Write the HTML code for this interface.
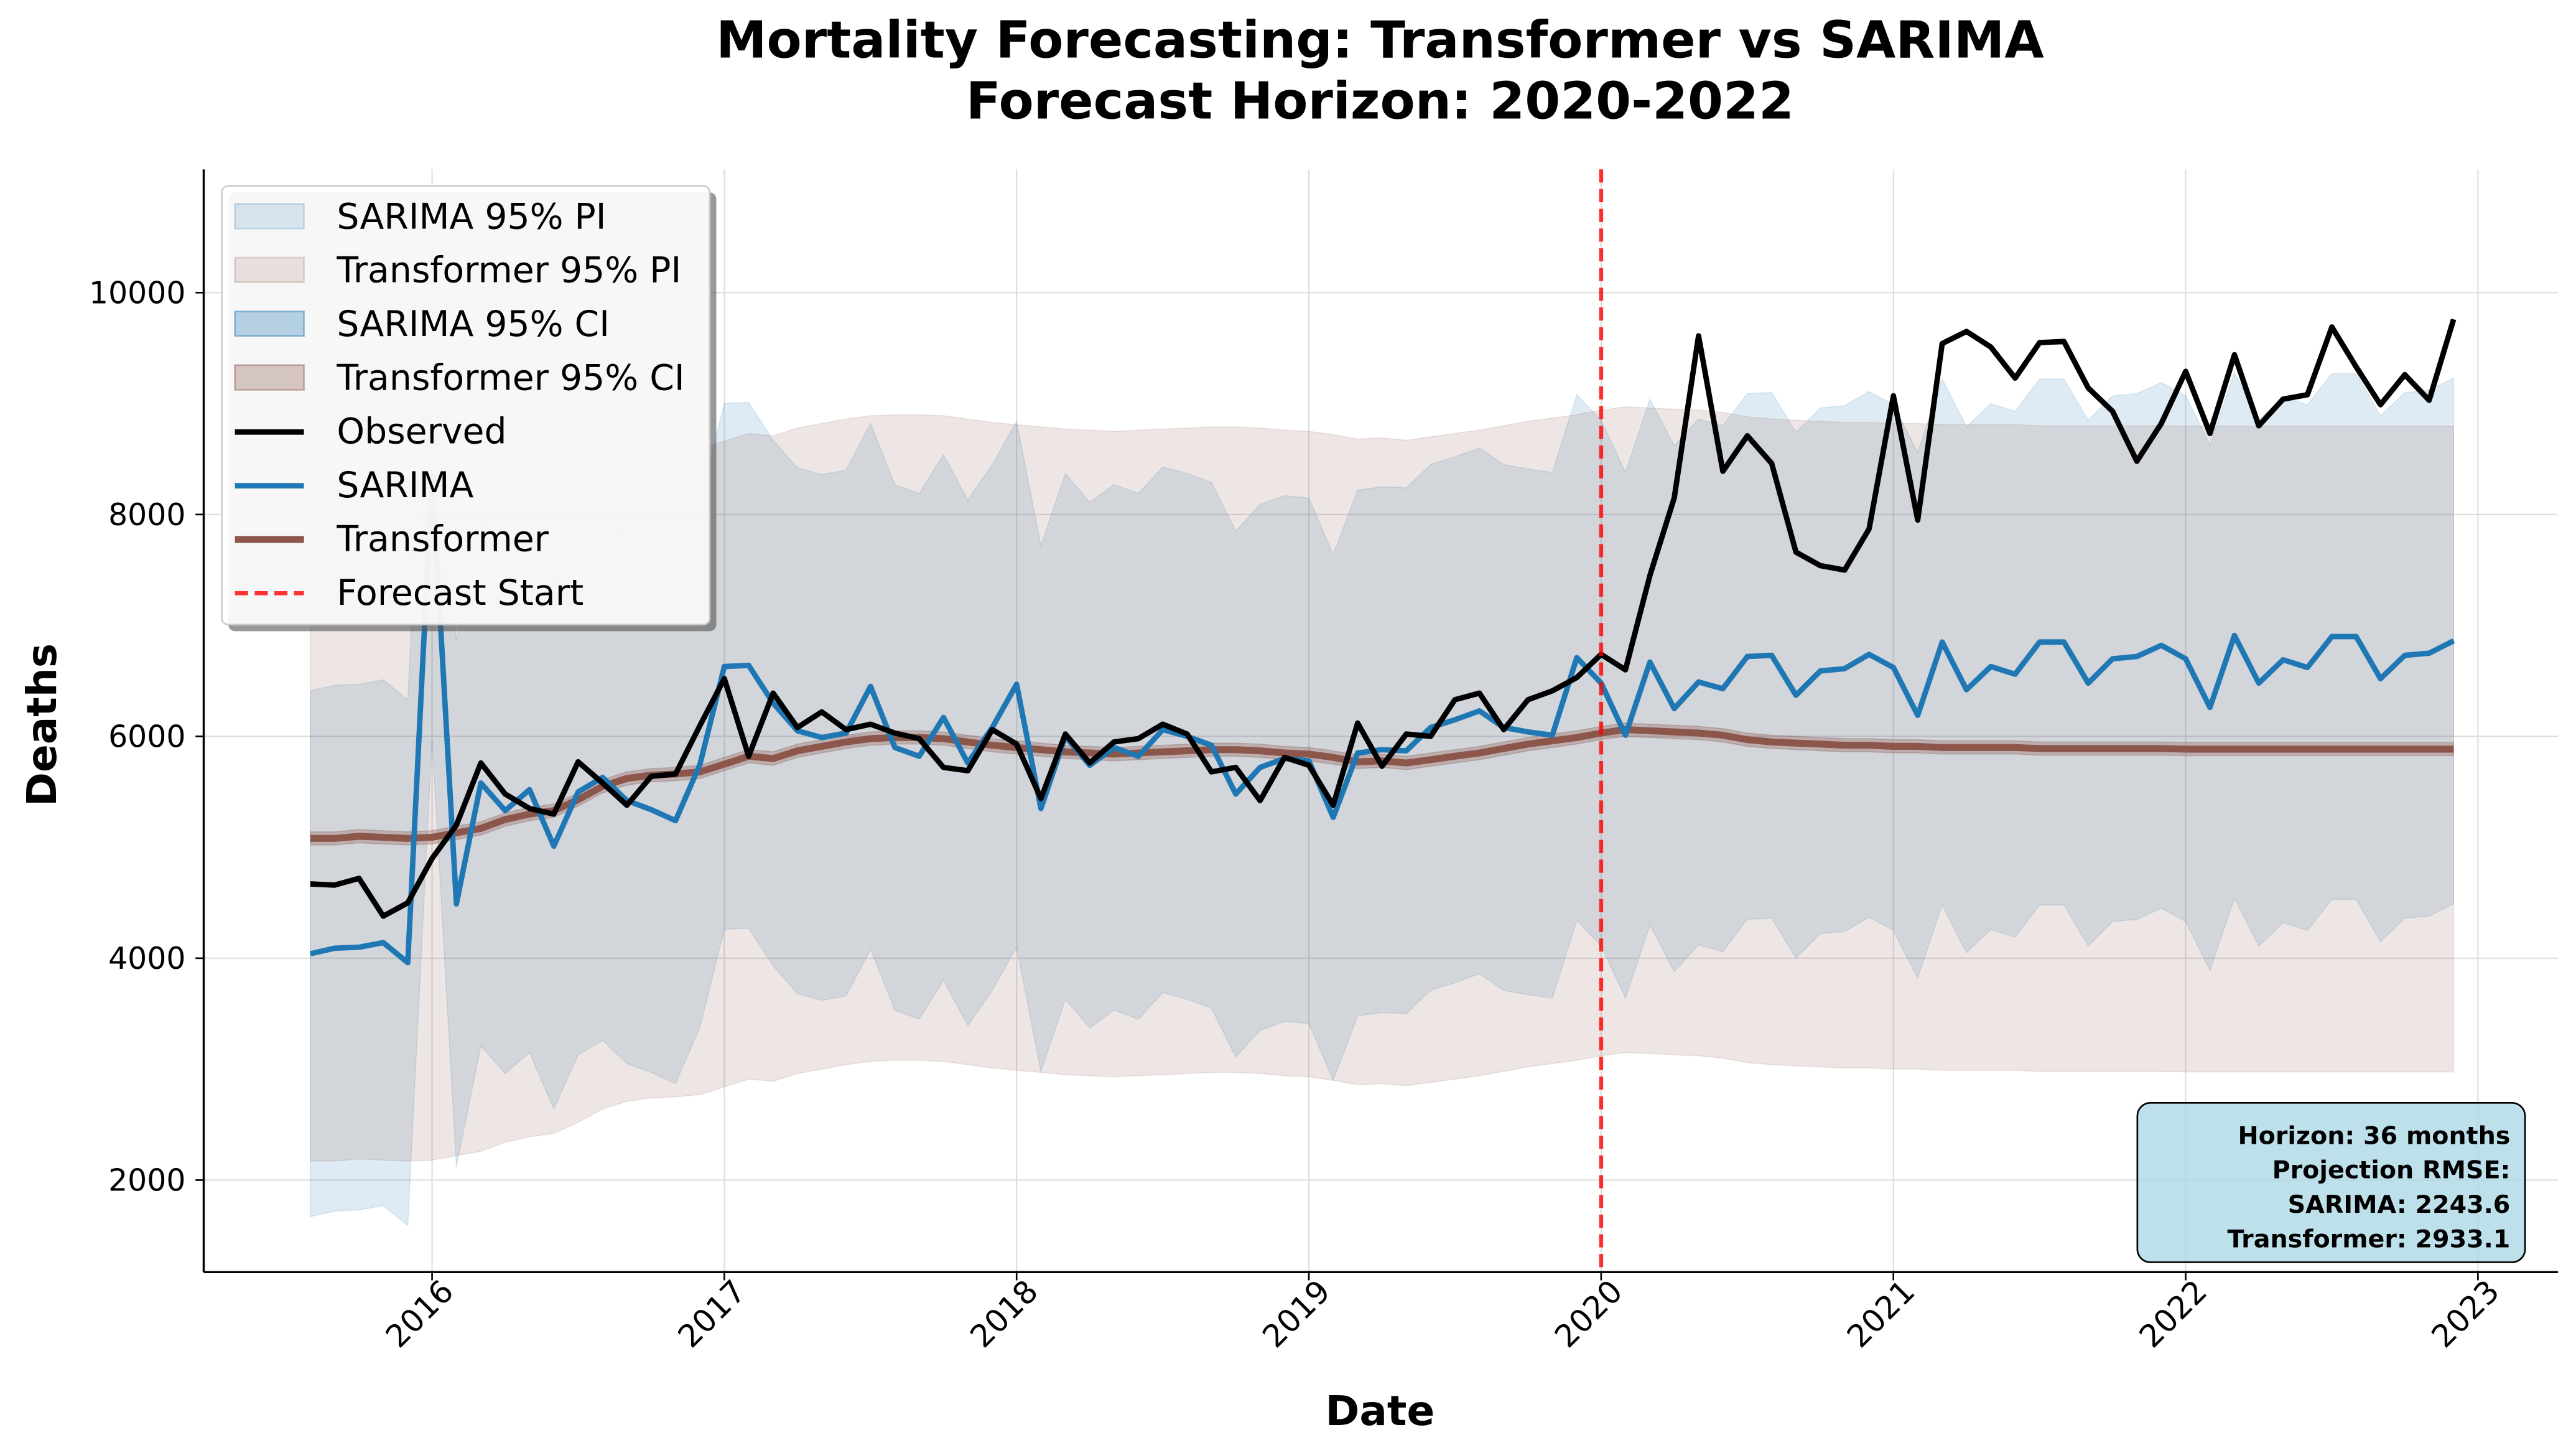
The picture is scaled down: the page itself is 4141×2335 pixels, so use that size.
<!DOCTYPE html>
<html><head><meta charset="utf-8"><style>
html,body{margin:0;padding:0;background:#fff}
svg{display:block;font-family:"DejaVu Sans","Liberation Sans",sans-serif}
</style></head><body>
<svg id="chart" width="4141" height="2335" viewBox="0 0 1568 884" xmlns="http://www.w3.org/2000/svg">
<rect width="1568" height="884" fill="#fff"/>
<text x="840" y="35" text-anchor="middle" font-size="31" font-weight="bold">Mortality Forecasting: Transformer vs SARIMA</text>
<text x="840" y="72" text-anchor="middle" font-size="31" font-weight="bold">Forecast Horizon: 2020-2022</text>
<g id="grid"></g>
<g id="bands"></g>
<g id="lines"></g>
<g id="axes"></g>
<g id="legend"></g>
<g>
<rect x="1301" y="671" width="236" height="97" rx="8" fill="#add8e6" fill-opacity="0.8" stroke="#000" stroke-width="1"/>
<text x="1528" y="696" text-anchor="end" font-size="15" font-weight="bold">Horizon: 36 months</text>
<text x="1528" y="717" text-anchor="end" font-size="15" font-weight="bold">Projection RMSE:</text>
<text x="1528" y="738" text-anchor="end" font-size="15" font-weight="bold">SARIMA: 2243.6</text>
<text x="1528" y="759" text-anchor="end" font-size="15" font-weight="bold">Transformer: 2933.1</text>
</g>
<text x="840" y="867" text-anchor="middle" font-size="25" font-weight="bold">Date</text>
<text transform="translate(34,441) rotate(-90)" text-anchor="middle" font-size="25" font-weight="bold">Deaths</text>
</svg>
<script>
const startYear = 2015, startMonth = 8;
const observed = [4670,4660,4720,4380,4500,
4900,5200,5760,5480,5350,5300,5770,5580,5380,5640,5660,6100,
6520,5820,6390,6080,6220,6060,6110,6030,5980,5720,5690,6060,
5930,5440,6020,5760,5950,5980,6110,6020,5680,5720,5420,5810,
5740,5380,6120,5730,6020,6000,6330,6390,6060,6330,6410,6530,
6740,6600,7450,8150,9610,8390,8710,8460,7660,7540,7500,7870,
9070,7950,9540,9650,9510,9230,9550,9560,9140,8930,8480,8820,
9290,8730,9440,8800,9040,9080,9690,9330,8990,9260,9030,9760];
const sarima = [4040,4090,4100,4140,3960,
8350,4490,5580,5330,5520,5010,5500,5630,5420,5340,5240,5750,
6630,6640,6300,6050,5990,6030,6450,5900,5820,6170,5760,6080,
6470,5350,6000,5740,5900,5820,6060,6000,5920,5480,5720,5800,
5780,5270,5850,5880,5870,6080,6150,6230,6080,6040,6010,6710,
6480,6010,6670,6250,6490,6430,6720,6730,6370,6590,6610,6740,
6620,6190,6850,6420,6630,6560,6850,6850,6480,6700,6720,6820,
6700,6260,6910,6480,6690,6620,6900,6900,6520,6730,6750,6860];
const transformer = [5080,5080,5100,5090,5080,
5090,5130,5170,5250,5300,5330,5430,5550,5620,5650,5660,5680,
5750,5820,5800,5870,5910,5950,5980,5990,5990,5980,5950,5920,
5900,5880,5860,5850,5840,5850,5860,5870,5880,5880,5870,5850,
5840,5810,5770,5780,5760,5790,5820,5850,5890,5930,5960,5990,
6030,6060,6050,6040,6030,6010,5970,5950,5940,5930,5920,5920,
5910,5910,5900,5900,5900,5900,5890,5890,5890,5890,5890,5890,
5885,5885,5885,5885,5885,5885,5885,5885,5885,5885,5885,5885];
const sarimaPI = 2370, sarimaCI = 5, transPI = 2910, transCI = 60;
const yTicks = [2000,4000,6000,8000,10000];
const xTicks = [2016,2017,2018,2019,2020,2021,2022,2023];
const forecastStart = 2020;

const X = t => 263 + (t - 2016) * 177.9;
const Y = v => 448 - (v - 6000) * 0.0675;
const NS = 'http://www.w3.org/2000/svg';
function mk(tag, parent, attrs){ const e=document.createElementNS(NS,tag); for(const k in attrs) e.setAttribute(k,attrs[k]); parent.appendChild(e); return e; }
const tOf = i => startYear + (startMonth - 1 + i) / 12;

const grid = document.getElementById('grid');
yTicks.forEach(v=>{ const l=mk('line',grid,{x1:124,x2:1557,y1:Y(v),y2:Y(v),stroke:'#ddd','stroke-width':0.8});
  });
xTicks.forEach(v=>{ const l=mk('line',grid,{x1:X(v),x2:X(v),y1:103,y2:774,stroke:'#ddd','stroke-width':0.8});
  });

const bands = document.getElementById('bands');
function band(arr, w, color, op, name){
  let up = arr.map((v,i)=>X(tOf(i)).toFixed(1)+','+Y(v+w).toFixed(1));
  let lo = arr.map((v,i)=>X(tOf(i)).toFixed(1)+','+Y(v-w).toFixed(1)).reverse();
  const p = mk('polygon',bands,{points:up.concat(lo).join(' '),fill:color,'fill-opacity':op,stroke:color,'stroke-opacity':op,'stroke-width':0.6});
   
}
band(sarima,sarimaPI,'#1f77b4',0.15,'sarima-pi-band');
band(transformer,transPI,'#8c564b',0.15,'transformer-pi-band');
band(sarima,sarimaCI,'#1f77b4',0.3,'sarima-ci-band');
band(transformer,transCI,'#8c564b',0.3,'transformer-ci-band');

const lines = document.getElementById('lines');
function line(arr,color,w,name){
  const p = mk('polyline',lines,{points:arr.map((v,i)=>X(tOf(i)).toFixed(1)+','+Y(v).toFixed(1)).join(' '),fill:'none',stroke:color,'stroke-width':w,'stroke-linejoin':'round'});
   
}
line(transformer,'#8c564b',4.2,'transformer-line');
line(sarima,'#1f77b4',3.3,'sarima-line');
line(observed,'#000',3.3,'observed-line');
const fl = mk('line',lines,{x1:X(forecastStart),x2:X(forecastStart),y1:103,y2:774,stroke:'#ff0000','stroke-opacity':0.8,'stroke-width':2.5,'stroke-dasharray':'8,4'});



const axes = document.getElementById('axes');
const sp1 = mk('line',axes,{x1:124,x2:124,y1:103,y2:774,stroke:'#000','stroke-width':1.3});
 
const sp2 = mk('line',axes,{x1:124,x2:1557,y1:774,y2:774,stroke:'#000','stroke-width':1.3});
 
yTicks.forEach(v=>{
  mk('line',axes,{x1:119,x2:124,y1:Y(v),y2:Y(v),stroke:'#000','stroke-width':1});
  const t = mk('text',axes,{x:113,y:Y(v)+6.5,'text-anchor':'end','font-size':18.5});
  t.textContent = v;
   
});
xTicks.forEach(v=>{
  mk('line',axes,{x1:X(v),x2:X(v),y1:774,y2:779,stroke:'#000','stroke-width':1});
  const t = mk('text',axes,{'text-anchor':'middle','font-size':19,transform:`translate(${X(v)-3},${804}) rotate(-45)`});
  t.textContent = v;
   
});

const lg = document.getElementById('legend');
mk('rect',lg,{x:139,y:117,width:297,height:267,rx:4,fill:'#555','fill-opacity':0.6});
const box = mk('rect',lg,{x:135,y:113,width:297,height:267,rx:4,fill:'#fff','fill-opacity':0.92,stroke:'#ccc'});
 
const items = [
 ['SARIMA 95% PI','patch','#1f77b4',0.15],
 ['Transformer 95% PI','patch','#8c564b',0.15],
 ['SARIMA 95% CI','patch','#1f77b4',0.3],
 ['Transformer 95% CI','patch','#8c564b',0.3],
 ['Observed','line','#000',3.3],
 ['SARIMA','line','#1f77b4',3.3],
 ['Transformer','line','#8c564b',4.2],
 ['Forecast Start','dash','#ff0000',2.5]];
items.forEach((it,i)=>{
  const cy = 131 + i*32.7;
  const g = mk('g',lg,{});
  
  
  if(it[1]==='patch') mk('rect',g,{x:143,y:cy-7,width:42,height:15,fill:it[2],'fill-opacity':it[3],stroke:it[2],'stroke-opacity':it[3]*1.5});
  else mk('line',g,{x1:143,x2:185,y1:cy+1,y2:cy+1,stroke:it[2],'stroke-width':it[3],'stroke-opacity':it[1]==='dash'?0.8:1,'stroke-dasharray':it[1]==='dash'?'8,4':'none'});
  const t = mk('text',g,{x:205,y:cy+8,'font-size':21.5}); t.textContent = it[0];
});
</script>
</body></html>
